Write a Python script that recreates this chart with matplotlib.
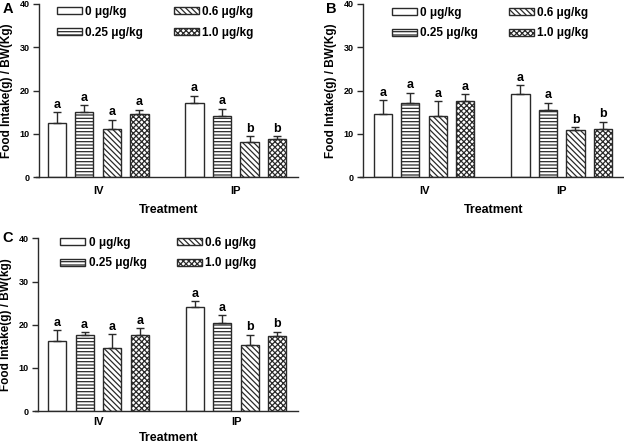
import numpy as np
import matplotlib
matplotlib.use("Agg")
import matplotlib.pyplot as plt

plt.rcParams['font.family'] = ['Liberation Sans', 'DejaVu Sans']
plt.rcParams['font.weight'] = 'bold'
plt.rcParams['hatch.linewidth'] = 0.9

doses = ['0 \u03bcg/kg', '0.25 \u03bcg/kg', '0.6 \u03bcg/kg', '1.0 \u03bcg/kg']
groups = ['IV', 'IP']
hatches = ['', '-----', '\\\\\\\\\\\\', 'xxxxxx']

# mean values per dose, IV then IP
mean_a = [[12.5, 15.0, 11.2, 14.5], [17.2, 14.2, 8.2, 8.8]]
err_a = [[2.5, 1.7, 2.1, 1.1], [1.6, 1.6, 1.3, 0.7]]
sig_a = [['a', 'a', 'a', 'a'], ['a', 'a', 'b', 'b']]

mean_b = [[14.5, 17.2, 14.2, 17.7], [19.1, 15.5, 10.8, 11.2]]
err_b = [[3.3, 2.3, 3.4, 1.5], [2.1, 1.7, 0.7, 1.6]]
sig_b = [['a', 'a', 'a', 'a'], ['a', 'a', 'b', 'b']]

mean_c = [[16.2, 17.7, 14.5, 17.6], [24.2, 20.5, 15.4, 17.3]]
err_c = [[2.6, 0.5, 3.3, 1.6], [1.3, 1.7, 2.3, 1.1]]
sig_c = [['a', 'a', 'a', 'a'], ['a', 'a', 'b', 'b']]

edge = '#2a2a2a'


def draw_panel(ax, means, errs, sigs, ylabel, xlim, leg_anchor, xlab_pad):
    width = 0.66
    for g in range(2):
        for d in range(4):
            x = g * 5 + d
            ax.bar(x, means[g][d], width, color='white', edgecolor=edge,
                   hatch=hatches[d], linewidth=1.0,
                   label=doses[d] if g == 0 else None)
            ax.errorbar(x, means[g][d], yerr=[[0], [errs[g][d]]], color=edge,
                        capsize=3, elinewidth=1.0, capthick=1.0)
            ax.text(x, means[g][d] + errs[g][d] + 0.3, sigs[g][d],
                    ha='center', va='bottom', fontsize=9, fontweight='bold')
    ax.set_xlim(*xlim)
    ax.set_ylim(0, 40)
    ax.set_yticks([0, 10, 20, 30, 40])
    ax.set_xticks([1.5, 6.5])
    ax.set_xticklabels(groups, fontsize=8, fontweight='bold')
    ax.tick_params(axis='x', length=0, pad=xlab_pad)
    ax.tick_params(axis='y', labelsize=6.5, length=4.3, width=1.0, color=edge, pad=2.5)
    for s in ['top', 'right']:
        ax.spines[s].set_visible(False)
    for s in ['left', 'bottom']:
        ax.spines[s].set_color(edge)
        ax.spines[s].set_linewidth(1.0)
    ax.spines['bottom'].set_bounds(xlim[0] - 0.11, xlim[1])
    ax.set_xlabel('Treatment', fontsize=9, fontweight='bold', labelpad=xlab_pad)
    ax.set_ylabel(ylabel, fontsize=8.5, fontweight='bold')
    ax.yaxis.set_label_coords(-0.10, 0.5)
    ax.legend(ncol=2, loc='upper left', bbox_to_anchor=leg_anchor,
              frameon=False, handlelength=2.1, handleheight=0.55,
              columnspacing=2.6, labelspacing=0.75, handletextpad=0.3,
              borderpad=0, borderaxespad=0,
              prop={'weight': 'bold', 'size': 8.5})


fig = plt.figure(figsize=(6.24, 4.43), dpi=100)
ax_a = fig.add_axes([0.0625, 0.600, 0.415, 0.391])
ax_b = fig.add_axes([0.582, 0.600, 0.4175, 0.391])
ax_c = fig.add_axes([0.061, 0.072, 0.417, 0.390])

draw_panel(ax_a, mean_a, err_a, sig_a, 'Food Intake(g) / BW(Kg)', (-0.65, 8.76),
           (0.069, 0.99), 6)
draw_panel(ax_b, mean_b, err_b, sig_b, 'Food Intake(g) / BW(Kg)', (-0.71, 8.75),
           (0.11, 0.985), 6)
draw_panel(ax_c, mean_c, err_c, sig_c, 'Food Intake(g) / BW(kg)', (-0.69, 8.76),
           (0.085, 1.01), 4)

fig.text(0.004, 0.995, 'A', fontsize=10.5, fontweight='bold', va='top', ha='left')
fig.text(0.523, 0.995, 'B', fontsize=10.5, fontweight='bold', va='top', ha='left')
fig.text(0.004, 0.478, 'C', fontsize=10.5, fontweight='bold', va='top', ha='left')

fig.savefig('out.png', dpi=100)
